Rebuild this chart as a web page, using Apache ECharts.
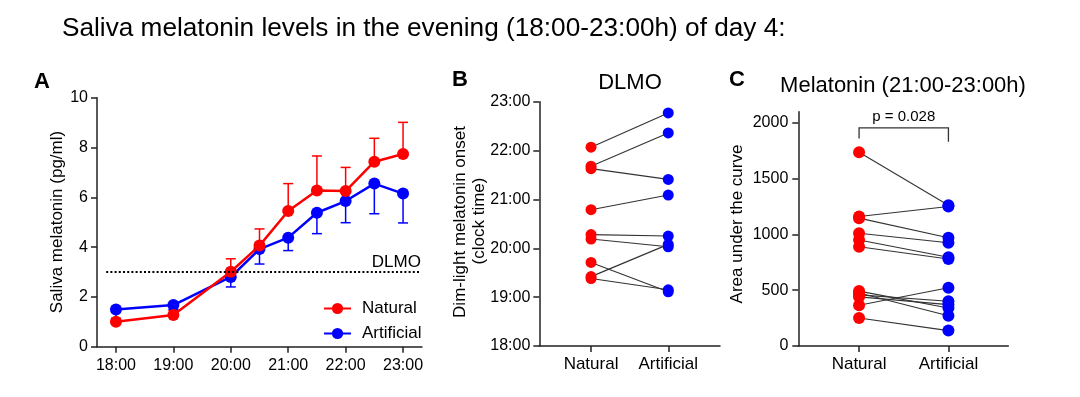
<!DOCTYPE html>
<html>
<head>
<meta charset="utf-8">
<script src="https://cdn.jsdelivr.net/npm/echarts@6/dist/echarts.min.js"></script>
<style>
  html, body { margin: 0; padding: 0; background: #fff; }
  #chart { width: 1080px; height: 397px; }
</style>
</head>
<body>
<div id="chart"></div>
<script>
// panel A: mean saliva melatonin per sample time
const hours = [18, 19, 20, 20.5, 21, 21.5, 22, 22.5, 23];
const hourTicks = [18, 19, 20, 21, 22, 23];
const natMean = [1.0, 1.27, 3.01, 4.06, 5.45, 6.27, 6.25, 7.43, 7.74];
const natUpper = [1.14, 1.45, 3.53, 4.73, 6.55, 7.66, 7.2, 8.37, 9.01];
const artMean = [1.49, 1.67, 2.8, 3.92, 4.38, 5.38, 5.85, 6.55, 6.15];
const artLower = [1.12, 1.5, 2.4, 3.32, 3.86, 4.54, 4.98, 5.34, 4.97];
const dlmoThreshold = 3;

// panel B: DLMO clock time per subject (paired)
const groups = ['Natural', 'Artificial'];
const natDLMO = [22.07, 21.68, 21.63, 20.79, 20.28, 20.19, 19.71, 19.42, 19.38];
const artDLMO = [22.77, 22.36, 21.41, 21.09, 20.25, 20.03, 19.11, 20.08, 19.15];

// panel C: area under the curve 21:00-23:00 (paired)
const natAUC = [1737, 1161, 1146, 1011, 950, 890, 492, 475, 458, 440, 365, 251];
const artAUC = [1262, 1250, 970, 925, 795, 780, 341, 271, 401, 371, 522, 138];
const aucTicks = [0, 500, 1000, 1500, 2000];
const pText = 'p = 0.028';

const RED = '#ff0000';
const BLUE = '#0000ff';
const FONT = 'Liberation Sans, Arial, sans-serif';
const AX = { lineStyle: { color: '#222', width: 1.5 } };
const TICK = { length: 6, lineStyle: { color: '#222', width: 1.5 } };
const LBL = { color: '#000', fontSize: 16, fontFamily: FONT };

const chart = echarts.init(document.getElementById('chart'));

function errBar(color) {
  return function (params, api) {
    const p0 = api.coord([api.value(0), api.value(1)]);
    const p1 = api.coord([api.value(0), api.value(2)]);
    const st = { stroke: color, lineWidth: 1.5 };
    return {
      type: 'group',
      children: [
        { type: 'line', shape: { x1: p0[0], y1: p0[1], x2: p1[0], y2: p1[1] }, style: st },
        { type: 'line', shape: { x1: p1[0] - 5, y1: p1[1], x2: p1[0] + 5, y2: p1[1] }, style: st }
      ]
    };
  };
}

function pairs(a, b) {
  return a.map((v, i) => ({ coords: [[1, v], [2, b[i]]] }));
}

function text(str, x, y, opts) {
  return Object.assign({
    type: 'text', x: x, y: y,
    style: Object.assign({ text: str, fill: '#000', font: '17px ' + FONT, textAlign: 'center', textVerticalAlign: 'middle' }, opts || {})
  });
}

const groupLabel = { ...LBL, fontSize: 17, margin: 10, formatter: v => groups[v - 1] };

chart.setOption({
  backgroundColor: '#fff',
  animation: false,
  grid: [
    { left: 97, top: 97.7, width: 325, height: 249 },
    { left: 539.3, top: 101.7, width: 180.7, height: 244.3 },
    { left: 798.3, top: 111.7, width: 210, height: 234.3 }
  ],
  xAxis: [
    {
      gridIndex: 0, type: 'value', min: 17.67, max: 23.33,
      axisLine: AX, splitLine: { show: false },
      axisTick: { ...TICK, customValues: hourTicks },
      axisLabel: { ...LBL, margin: 11, customValues: hourTicks, formatter: v => v + ':00' }
    },
    {
      gridIndex: 1, type: 'value', min: 0.33, max: 2.67,
      axisLine: AX, splitLine: { show: false },
      axisTick: { ...TICK, customValues: [1, 2] },
      axisLabel: { ...groupLabel, customValues: [1, 2] }
    },
    {
      gridIndex: 2, type: 'value', min: 0.32, max: 2.67,
      axisLine: AX, splitLine: { show: false },
      axisTick: { ...TICK, customValues: [1, 2] },
      axisLabel: { ...groupLabel, customValues: [1, 2] }
    }
  ],
  yAxis: [
    {
      gridIndex: 0, type: 'value', min: 0, max: 10, interval: 2,
      axisLine: { show: true, ...AX }, axisTick: { show: true, ...TICK }, splitLine: { show: false },
      axisLabel: { ...LBL, margin: 9 }
    },
    {
      gridIndex: 1, type: 'value', min: 18, max: 23, interval: 1,
      axisLine: { show: true, ...AX }, axisTick: { show: true, ...TICK }, splitLine: { show: false },
      axisLabel: { ...LBL, margin: 9, formatter: v => Math.round(v) + ':00' }
    },
    {
      gridIndex: 2, type: 'value', min: 0, max: 2100,
      axisLine: { show: true, ...AX }, splitLine: { show: false },
      axisTick: { show: true, ...TICK, customValues: aucTicks },
      axisLabel: { ...LBL, margin: 10, customValues: aucTicks, formatter: v => String(v) }
    }
  ],
  legend: {
    left: 318, top: 295, orient: 'vertical', itemWidth: 27, itemHeight: 14, itemGap: 8,
    data: ['Natural', 'Artificial'],
    textStyle: { color: '#000', fontSize: 17, fontFamily: FONT, padding: [0, 0, 0, 6] }
  },
  series: [
    {
      type: 'custom', xAxisIndex: 0, yAxisIndex: 0, z: 1,
      renderItem: errBar(BLUE),
      data: hours.map((h, i) => [h, artMean[i], artLower[i]])
    },
    {
      type: 'custom', xAxisIndex: 0, yAxisIndex: 0, z: 1,
      renderItem: errBar(RED),
      data: hours.map((h, i) => [h, natMean[i], natUpper[i]])
    },
    {
      name: 'Artificial', type: 'line', xAxisIndex: 0, yAxisIndex: 0, z: 3,
      symbol: 'circle', symbolSize: 12,
      itemStyle: { color: BLUE }, lineStyle: { color: BLUE, width: 2.5 },
      data: hours.map((h, i) => [h, artMean[i]]),
      markLine: {
        silent: true, symbol: 'none',
        lineStyle: { color: '#000', type: [2, 2.2], width: 2 },
        label: { show: true, position: 'insideEndTop', formatter: 'DLMO', color: '#000', fontSize: 17, fontFamily: FONT, distance: [0, 1.5] },
        data: [[{ coord: [17.83, dlmoThreshold] }, { coord: [23.31, dlmoThreshold] }]]
      }
    },
    {
      name: 'Natural', type: 'line', xAxisIndex: 0, yAxisIndex: 0, z: 4,
      symbol: 'circle', symbolSize: 12,
      itemStyle: { color: RED }, lineStyle: { color: RED, width: 2.5 },
      data: hours.map((h, i) => [h, natMean[i]])
    },
    {
      type: 'lines', coordinateSystem: 'cartesian2d', xAxisIndex: 1, yAxisIndex: 1, z: 1,
      lineStyle: { color: '#333', width: 1.1, opacity: 1 },
      data: pairs(natDLMO, artDLMO)
    },
    {
      type: 'scatter', xAxisIndex: 1, yAxisIndex: 1, symbolSize: 11, z: 3,
      itemStyle: { color: RED, opacity: 1 }, data: natDLMO.map(v => [1, v])
    },
    {
      type: 'scatter', xAxisIndex: 1, yAxisIndex: 1, symbolSize: 11, z: 3,
      itemStyle: { color: BLUE, opacity: 1 }, data: artDLMO.map(v => [2, v])
    },
    {
      type: 'lines', coordinateSystem: 'cartesian2d', xAxisIndex: 2, yAxisIndex: 2, z: 1,
      lineStyle: { color: '#333', width: 1.1, opacity: 1 },
      data: pairs(natAUC, artAUC)
    },
    {
      type: 'scatter', xAxisIndex: 2, yAxisIndex: 2, symbolSize: 12, z: 3,
      itemStyle: { color: RED, opacity: 1 }, data: natAUC.map(v => [1, v])
    },
    {
      type: 'scatter', xAxisIndex: 2, yAxisIndex: 2, symbolSize: 12, z: 3,
      itemStyle: { color: BLUE, opacity: 1 }, data: artAUC.map(v => [2, v])
    },
    {
      // significance bracket between the two groups
      type: 'custom', xAxisIndex: 2, yAxisIndex: 2, silent: true,
      renderItem: function (params, api) {
        const a = api.coord([1, 1860]);
        const b = api.coord([1, 1955]);
        const c = api.coord([2, 1955]);
        const d = api.coord([2, 1830]);
        return {
          type: 'group',
          children: [
            { type: 'polyline', shape: { points: [a, b, c, d] }, style: { stroke: '#333', lineWidth: 1.3, fill: null } },
            { type: 'text', x: (b[0] + c[0]) / 2, y: b[1] - 11, style: { text: pText, fill: '#000', font: '15px ' + FONT, textAlign: 'center', textVerticalAlign: 'middle' } }
          ]
        };
      },
      data: [[1.5, 1955]]
    }
  ],
  graphic: [
    text('Saliva melatonin levels in the evening (18:00-23:00h) of day 4:', 62, 29, { font: '26.2px ' + FONT, textAlign: 'left' }),
    text('A', 34, 82, { font: 'bold 22px ' + FONT, textAlign: 'left' }),
    text('B', 452, 80, { font: 'bold 22px ' + FONT, textAlign: 'left' }),
    text('C', 729, 80, { font: 'bold 22px ' + FONT, textAlign: 'left' }),
    text('DLMO', 630, 83, { font: '22px ' + FONT }),
    text('Melatonin (21:00-23:00h)', 903, 86, { font: '22px ' + FONT }),
    Object.assign(text('Saliva melatonin (pg/ml)', 57, 222), { rotation: Math.PI / 2 }),
    Object.assign(text('Dim-light melatonin onset', 460, 222), { rotation: Math.PI / 2 }),
    Object.assign(text('(clock time)', 479, 221), { rotation: Math.PI / 2 }),
    Object.assign(text('Area under the curve', 737, 224), { rotation: Math.PI / 2 })
  ]
});

window.onresize = function () {
  chart.resize();
};
</script>
</body>
</html>
